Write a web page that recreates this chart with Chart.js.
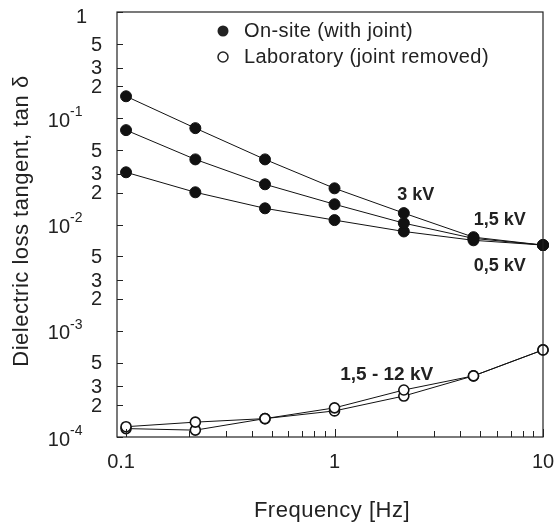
<!DOCTYPE html>
<html>
<head>
<meta charset="utf-8">
<script src="https://cdn.jsdelivr.net/npm/chart.js@4/dist/chart.umd.min.js"></script>
<style>
    html, body { margin: 0; padding: 0; background: #fff; }
    #wrap { width: 555px; height: 528px; }
</style>
</head>
<body>
<div id="wrap"><canvas id="tandelta-chart" width="555" height="528"></canvas></div>
<script>
// Frequencies (Hz)
var freqs = [0.1, 0.215, 0.464, 1, 2.15, 4.64, 10];

// On-site (with joint)
var onsite3kV = [0.161, 0.0807, 0.041, 0.0219, 0.0128, 0.0076, 0.0064];
var onsite15kV = [0.0773, 0.041, 0.0239, 0.0155, 0.0103, 0.0074, 0.0064];
var onsite05kV = [0.031, 0.0201, 0.0142, 0.011, 0.0086, 0.0071, 0.0064];

// Laboratory (joint removed), 1,5 - 12 kV
var labA = [1.25e-4, 1.38e-4, 1.49e-4, 1.88e-4, 2.77e-4, 3.76e-4, 6.6e-4];
var labB = [1.2e-4, 1.16e-4, 1.49e-4, 1.76e-4, 2.43e-4, 3.76e-4, 6.6e-4];

var xTickLabels = ['0.1', '1', '10'];
var xTickValues = [0.1, 1, 10];
var yDecades = [1, 0.1, 0.01, 0.001, 0.0001];
var yDecadeExp = ['', '-1', '-2', '-3', '-4'];
var yMinorDigits = [5, 3, 2];

var annotations = [
    { text: '3 kV', x: 2.45, y: 0.0188 },
    { text: '1,5 kV', x: 6.2, y: 0.011 },
    { text: '0,5 kV', x: 6.2, y: 0.00404 },
    { text: '1,5 - 12 kV', x: 1.78, y: 3.87e-4 }
];

function toPoints(values) {
    return values.map(function(v, i) { return { x: freqs[i], y: v }; });
}

function onsiteSet(values) {
    return {
        data: toPoints(values),
        borderColor: '#111',
        borderWidth: 1,
        pointRadius: 5.5,
        pointBackgroundColor: '#111',
        pointBorderColor: '#111',
        pointBorderWidth: 1,
        tension: 0,
        clip: false
    };
}

function labSet(values) {
    return {
        data: toPoints(values),
        borderColor: '#111',
        borderWidth: 1,
        pointRadius: 5,
        pointBackgroundColor: '#fff',
        pointBorderColor: '#111',
        pointBorderWidth: 1.6,
        tension: 0,
        clip: false
    };
}

var FONT = '"Liberation Sans", Arial, Helvetica, sans-serif';

// Draws frame, inward ticks, tick labels, titles, legend and labels
var decorations = {
    id: 'decorations',
    afterDraw: function(chart) {
        var ctx = chart.ctx;
        var area = chart.chartArea;
        var xs = chart.scales.x;
        var ys = chart.scales.y;
        ctx.save();

        // frame
        ctx.strokeStyle = '#222';
        ctx.lineWidth = 1.2;
        ctx.strokeRect(area.left, area.top, area.right - area.left, area.bottom - area.top);

        // x ticks (inward, from bottom)
        ctx.lineWidth = 1;
        for (var d = 0.1; d < 10; d *= 10) {
            for (var m = 1; m <= 10; m++) {
                var v = d * m;
                if (v < xs.min) continue;
                var px = Math.round(xs.getPixelForValue(v)) + 0.5;
                var len = (m === 1 || m === 10) ? 8 : 6;
                ctx.beginPath();
                ctx.moveTo(px, area.bottom);
                ctx.lineTo(px, area.bottom - len);
                ctx.stroke();
            }
        }

        // y ticks (inward, from left)
        yDecades.forEach(function(dec) {
            [1, 2, 3, 5].forEach(function(m) {
                var v = dec * m;
                if (v > ys.max || v < ys.min) return;
                var py = Math.round(ys.getPixelForValue(v)) + 0.5;
                ctx.beginPath();
                ctx.moveTo(area.left, py);
                ctx.lineTo(area.left + 6, py);
                ctx.stroke();
            });
        });

        ctx.fillStyle = '#222';

        // y tick labels
        ctx.textBaseline = 'middle';
        yDecades.forEach(function(dec, i) {
            var py = ys.getPixelForValue(dec);
            if (yDecadeExp[i] === '') {
                ctx.font = '20px ' + FONT;
                ctx.textAlign = 'right';
                ctx.fillText('1', 87, py + 5);
            } else {
                ctx.font = '20px ' + FONT;
                ctx.textAlign = 'right';
                ctx.fillText('10', 70, py + 3);
                ctx.font = '14px ' + FONT;
                ctx.textAlign = 'left';
                ctx.fillText(yDecadeExp[i], 70, py - 6);
            }
            if (dec > ys.min) {
                yMinorDigits.forEach(function(m) {
                    ctx.font = '20px ' + FONT;
                    ctx.textAlign = 'right';
                    ctx.fillText(String(m), 102, ys.getPixelForValue(dec / 10 * m) + 1);
                });
            }
        });

        // x tick labels
        ctx.textAlign = 'center';
        ctx.font = '20px ' + FONT;
        xTickValues.forEach(function(v, i) {
            var px = xs.getPixelForValue(v);
            if (i === 0) px -= 5;
            ctx.fillText(xTickLabels[i], px, 462);
        });

        // axis titles
        ctx.font = '22px ' + FONT;
        ctx.letterSpacing = '0.5px';
        ctx.fillText('Frequency [Hz]', (area.left + area.right) / 2 + 2, 511);
        ctx.save();
        ctx.translate(22, 221);
        ctx.rotate(-Math.PI / 2);
        ctx.fillText('Dielectric loss tangent, tan δ', 0, 0);
        ctx.restore();

        // legend
        ctx.textAlign = 'left';
        ctx.font = '20px ' + FONT;
        ctx.letterSpacing = '0.4px';
        ctx.beginPath();
        ctx.arc(223, 31, 5.5, 0, Math.PI * 2);
        ctx.fill();
        ctx.fillText('On-site (with joint)', 244, 31);
        ctx.beginPath();
        ctx.arc(223, 57, 5, 0, Math.PI * 2);
        ctx.lineWidth = 1.5;
        ctx.stroke();
        ctx.fillText('Laboratory (joint removed)', 244, 57);
        ctx.letterSpacing = '0px';

        // series labels
        ctx.font = 'bold 18px ' + FONT;
        ctx.textAlign = 'center';
        annotations.forEach(function(a) {
            if (a.text.length > 8) ctx.font = 'bold 19px ' + FONT;
            ctx.fillText(a.text, xs.getPixelForValue(a.x), ys.getPixelForValue(a.y));
        });

        ctx.restore();
    }
};

new Chart(document.getElementById('tandelta-chart'), {
    type: 'line',
    data: {
        datasets: [
            onsiteSet(onsite3kV),
            onsiteSet(onsite15kV),
            onsiteSet(onsite05kV),
            labSet(labA),
            labSet(labB)
        ]
    },
    options: {
        responsive: false,
        animation: false,
        devicePixelRatio: 1,
        layout: { padding: { left: 117, right: 12, top: 12, bottom: 91 } },
        plugins: {
            legend: { display: false },
            tooltip: { enabled: false }
        },
        scales: {
            x: { type: 'logarithmic', min: 0.0905, max: 10, display: false },
            y: { type: 'logarithmic', min: 0.0001, max: 1, display: false }
        }
    },
    plugins: [decorations]
});
</script>
</body>
</html>
